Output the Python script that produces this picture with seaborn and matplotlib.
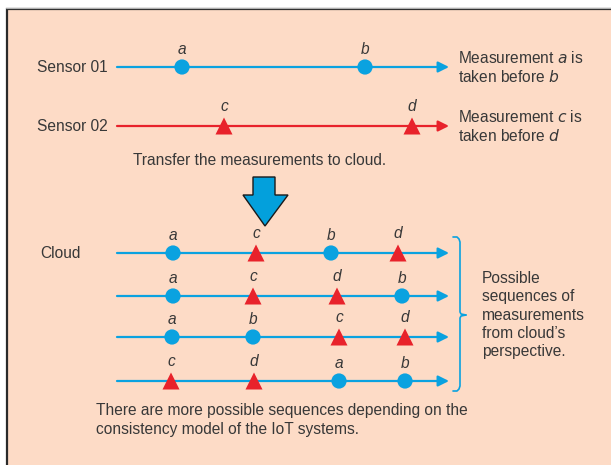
import pandas as pd
import matplotlib.pyplot as plt
import seaborn as sns
from matplotlib.patches import Rectangle, Polygon

sns.set_theme(style="white")
plt.rcParams["font.family"] = ["Liberation Sans", "DejaVu Sans"]

# --- data (x = time position along each line) ---
sensor_names = ["Sensor 01", "Sensor 02"]
sensor_events = [["a", "b"], ["c", "d"]]
sensor_times = [[182, 365], [224, 412]]

cloud_orders = [["a", "c", "b", "d"],
                ["a", "c", "d", "b"],
                ["a", "b", "c", "d"],
                ["c", "d", "a", "b"]]
cloud_times = [[173, 256, 331, 398],
               [173, 253, 337, 402],
               [172, 253, 339, 405],
               [171, 254, 339, 405]]

event_source = {"a": "Sensor 01", "b": "Sensor 01", "c": "Sensor 02", "d": "Sensor 02"}

# layout
BLUE = "#0aa2e0"
RED = "#e8222b"
TEXT = "#383838"
BG = "#fddbc6"
sensor_rows = [67, 126]
cloud_rows = [253, 296, 337, 381]
line_x0, line_x1 = 117, 449

rows = []
for name, evs, ts, y in zip(sensor_names, sensor_events, sensor_times, sensor_rows):
    for e, t in zip(evs, ts):
        rows.append({"time": t, "y": y, "event": e, "source": event_source[e]})
for evs, ts, y in zip(cloud_orders, cloud_times, cloud_rows):
    for e, t in zip(evs, ts):
        rows.append({"time": t, "y": y, "event": e, "source": event_source[e]})
df = pd.DataFrame(rows)

fig = plt.figure(figsize=(6.11, 4.65), dpi=100)
ax = fig.add_axes([0, 0, 1, 1])
ax.set_xlim(0, 611)
ax.set_ylim(465, 0)
ax.axis("off")

# background panel (left and top border only are visible)
ax.add_patch(Rectangle((6, 9), 620, 470, facecolor=BG, edgecolor="none", zorder=0))
ax.plot([6.5, 6.5, 611], [465, 9.5, 9.5], color="#2a2a2a", lw=1.6, zorder=1,
        solid_joinstyle="miter")
ax.plot([6, 611], [8, 8], color="#b0b0b0", lw=0.8, zorder=1)

# timelines with arrow heads
line_colors = [BLUE, RED] + [BLUE] * len(cloud_rows)
for y, c in zip(sensor_rows + cloud_rows, line_colors):
    ax.annotate("", xy=(line_x1, y), xytext=(line_x0, y),
                arrowprops=dict(arrowstyle="-|>", color=c, lw=1.6, mutation_scale=16,
                                shrinkA=0, shrinkB=0), zorder=2)

sns.scatterplot(data=df, x="time", y="y", hue="source", style="source",
                palette={"Sensor 01": BLUE, "Sensor 02": RED},
                markers={"Sensor 01": "o", "Sensor 02": "^"},
                size="source", sizes={"Sensor 01": 120, "Sensor 02": 150},
                linewidth=0, legend=False, ax=ax, zorder=3)
ax.set_xlim(0, 611)
ax.set_ylim(465, 0)

fs = 11.2
for _, r in df.iterrows():
    off = 18 if r["source"] == "Sensor 01" else 20
    ax.text(r["time"], r["y"] - off, r["event"], ha="center", va="center",
            fontsize=fs, style="italic", color=TEXT)

# labels
for name, y in zip(sensor_names, sensor_rows):
    ax.text(108, y, name, ha="right", va="center", fontsize=fs, color=TEXT)
ax.text(40, 253, "Cloud", ha="left", va="center", fontsize=fs, color=TEXT)

ax.text(458, 58, "Measurement $\\it{a}$ is", ha="left", va="center", fontsize=fs, color=TEXT)
ax.text(458, 77, "taken before $\\it{b}$", ha="left", va="center", fontsize=fs, color=TEXT)
ax.text(458, 117, "Measurement $\\it{c}$ is", ha="left", va="center", fontsize=fs, color=TEXT)
ax.text(458, 136, "taken before $\\it{d}$", ha="left", va="center", fontsize=fs, color=TEXT)

ax.text(133, 160, "Transfer the measurements to cloud.", ha="left", va="center",
        fontsize=fs, color=TEXT)

ax.text(482, 315, "Possible\nsequences of\nmeasurements\nfrom cloud\u2019s\nperspective.",
        ha="left", va="center", fontsize=fs, color=TEXT, linespacing=1.28)

ax.text(96, 420, "There are more possible sequences depending on the\n"
        "consistency model of the IoT systems.", ha="left", va="center",
        fontsize=fs, color=TEXT, linespacing=1.28)

# big down arrow
ax.add_patch(Polygon([(253, 177), (275, 177), (275, 195), (288, 195), (265, 226),
                      (243, 195), (253, 195)], closed=True, facecolor="#03a0dc",
                     edgecolor="#1a1a1a", lw=1.0, zorder=2))

# right brace
bx, top, bot, mid = 460, 237, 391, 315
ax.plot([453, 457, 459, bx, bx, 461, 466], [top, top, top + 2, top + 5, mid - 3, mid - 1, mid],
        color=BLUE, lw=1.2)
ax.plot([466, 461, bx, bx, 459, 457, 453], [mid, mid + 1, mid + 3, bot - 5, bot - 2, bot, bot],
        color=BLUE, lw=1.2)

fig.savefig("out.png", dpi=100, facecolor="white")
